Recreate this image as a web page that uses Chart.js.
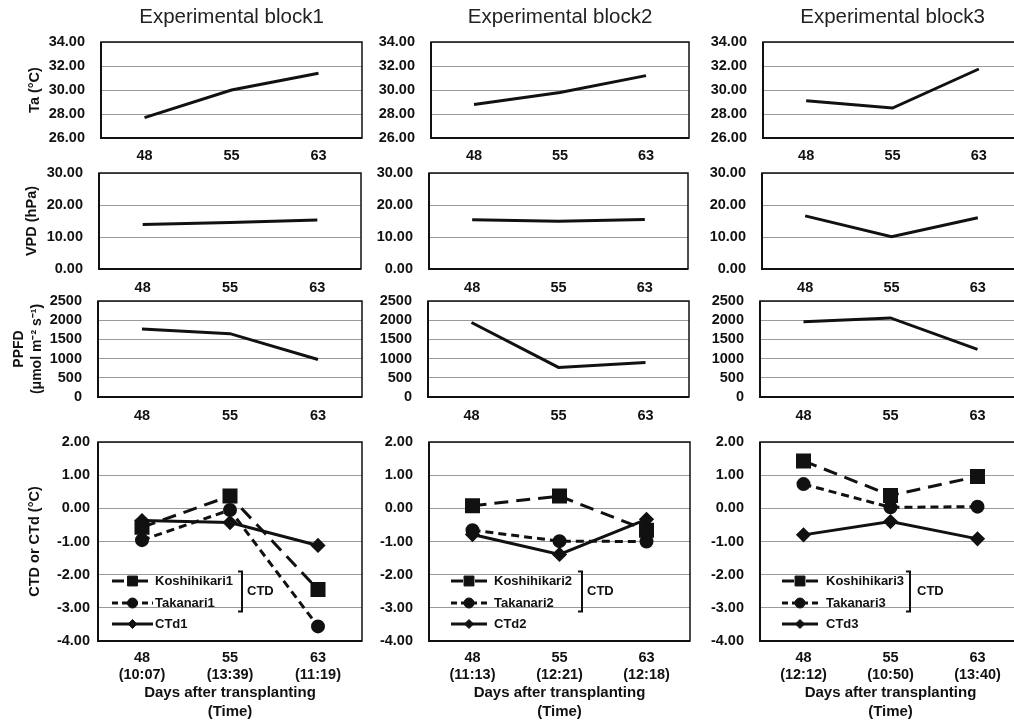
<!DOCTYPE html>
<html><head><meta charset="utf-8">
<script src="https://cdn.jsdelivr.net/npm/chart.js@4.4.1/dist/chart.umd.min.js"></script>
<style>
html,body{margin:0;padding:0;width:1014px;height:721px;overflow:hidden;background:#fff;}
canvas{position:absolute;}
</style></head><body>
<script>
// ---------- data ----------
const days = ['48', '55', '63'];
const times1 = ['(10:07)', '(13:39)', '(11:19)'];
const times2 = ['(11:13)', '(12:21)', '(12:18)'];
const times3 = ['(12:12)', '(10:50)', '(13:40)'];
const blockTitles = ['Experimental block1', 'Experimental block2', 'Experimental block3'];

const ta1 = [27.7, 30.0, 31.4];
const ta2 = [28.8, 29.8, 31.2];
const ta3 = [29.1, 28.5, 31.75];

const vpd1 = [13.9, 14.5, 15.3];
const vpd2 = [15.4, 14.9, 15.5];
const vpd3 = [16.6, 10.1, 16.0];

const ppfd1 = [1770, 1650, 975];
const ppfd2 = [1940, 770, 900];
const ppfd3 = [1960, 2060, 1240];

const koshihikari1 = [-0.57, 0.37, -2.45];
const takanari1 = [-0.96, -0.05, -3.56];
const ctdAir1 = [-0.37, -0.43, -1.12];
const koshihikari2 = [0.08, 0.37, -0.66];
const takanari2 = [-0.66, -0.99, -1.00];
const ctdAir2 = [-0.79, -1.39, -0.33];
const koshihikari3 = [1.43, 0.39, 0.96];
const takanari3 = [0.73, 0.03, 0.05];
const ctdAir3 = [-0.80, -0.40, -0.92];

const seriesNames = [
  ['Koshihikari1', 'Takanari1', 'CTd1'],
  ['Koshihikari2', 'Takanari2', 'CTd2'],
  ['Koshihikari3', 'Takanari3', 'CTd3']
];
const yTitles = ['Ta (°C)', 'VPD (hPa)', ['PPFD', '(μmol m⁻² s⁻¹)'], 'CTD or CTd (°C)'];
const xTitle = ['Days after transplanting', '(Time)'];
const bracketLabel = 'CTD';

// ---------- style / layout ----------
const FONT = '"Liberation Sans", Arial, Helvetica, sans-serif';
Chart.defaults.font.family = FONT;
Chart.defaults.color = '#111';
const INK = '#111';

const rows = [
  {T: 42, B: 138, L: [101, 431, 763], R: [362, 689, 1022], min: 26, max: 34, step: 2, dec: 2, tpad: 26.3, xpad: 9},
  {T: 173, B: 269, L: [99, 429, 762], R: [361, 688, 1021], min: 0, max: 30, step: 10, dec: 2, tpad: 23.3, xpad: 10.5},
  {T: 301, B: 397, L: [98, 428, 760], R: [362, 689, 1021], min: 0, max: 2500, step: 500, dec: 0, tpad: 10, xpad: 10},
  {T: 442, B: 641, L: [98, 429, 760], R: [362, 690, 1021], min: -4, max: 2, step: 1, dec: 2, tpad: 26.3, xpad: 8}
];
const legendPos = [
  {x0: 14, len: 41, tx: 57, bx: 144, cx: 149},
  {x0: 22, len: 36, tx: 65, bx: 153, cx: 158},
  {x0: 22, len: 36, tx: 66, bx: 150, cx: 157}
];

const boxPlugin = {
  id: 'box',
  beforeDatasetsDraw(chart) {
    const {ctx, chartArea: a} = chart;
    ctx.save();
    ctx.strokeStyle = INK;
    ctx.lineWidth = 1.5;
    ctx.strokeRect(a.left, a.top, a.right - a.left, a.bottom - a.top);
    ctx.lineWidth = 2;
    ctx.beginPath();
    ctx.moveTo(a.left, a.top); ctx.lineTo(a.left, a.bottom); ctx.lineTo(a.right, a.bottom);
    ctx.stroke();
    ctx.restore();
  }
};

const ctdLegendPlugin = {
  id: 'ctdLegend',
  afterDatasetsDraw(chart, args, opts) {
    if (!opts || !opts.show) return;
    const {ctx, chartArea: a} = chart;
    const rowY = [139, 161, 182];
    ctx.save();
    chart.data.datasets.forEach((ds, i) => {
      const y = a.top + rowY[i];
      const x0 = a.left + opts.x0, x1 = x0 + opts.len;
      ctx.strokeStyle = INK; ctx.lineWidth = 3;
      ctx.setLineDash(ds.legendDash || []);
      ctx.beginPath(); ctx.moveTo(x0, y); ctx.lineTo(x1, y); ctx.stroke();
      ctx.setLineDash([]);
      ctx.fillStyle = INK; ctx.lineWidth = 1;
      Chart.helpers.drawPoint(ctx, {pointStyle: ds.pointStyle, radius: ds.legendRadius, borderWidth: 1, rotation: 0}, (x0 + x1) / 2, y);
      ctx.font = 'bold 13px ' + FONT;
      ctx.textBaseline = 'middle';
      ctx.textAlign = 'left';
      ctx.fillText(ds.label, a.left + opts.tx, y);
    });
    const bx = a.left + opts.bx, bt = a.top + 129.5, bb = a.top + 169.5;
    ctx.lineWidth = 2; ctx.strokeStyle = INK;
    ctx.beginPath();
    ctx.moveTo(bx - 4, bt); ctx.lineTo(bx, bt); ctx.lineTo(bx, bb); ctx.lineTo(bx - 4, bb);
    ctx.stroke();
    ctx.font = 'bold 13px ' + FONT;
    ctx.textBaseline = 'middle';
    ctx.fillText(bracketLabel, a.left + opts.cx, a.top + 149);
    ctx.restore();
  }
};

const simpleData = [
  [ta1, ta2, ta3],
  [vpd1, vpd2, vpd3],
  [ppfd1, ppfd2, ppfd3]
];
const ctdData = [
  [koshihikari1, takanari1, ctdAir1],
  [koshihikari2, takanari2, ctdAir2],
  [koshihikari3, takanari3, ctdAir3]
];
const timesAll = [times1, times2, times3];

function makeChart(r, c) {
  const row = rows[r];
  const L = row.L[c], R = row.R[c], T = row.T, B = row.B;
  const yW = c === 0 ? L : 70;
  const topPad = r === 0 ? T : 30;
  const xH = r === 3 ? 721 - B : 28;
  const rightPad = 24;
  const w = yW + (R - L) + rightPad;
  const h = topPad + (B - T) + xH;
  const cv = document.createElement('canvas');
  cv.width = w; cv.height = h;
  cv.style.width = w + 'px'; cv.style.height = h + 'px';
  cv.style.left = (L - yW) + 'px'; cv.style.top = (T - topPad) + 'px';
  document.body.appendChild(cv);

  let labels, datasets;
  if (r < 3) {
    labels = days.slice();
    datasets = [{
      data: simpleData[r][c], borderColor: INK, borderWidth: 3, pointRadius: 0, tension: 0, fill: false
    }];
  } else {
    labels = days.map((d, i) => [d, timesAll[c][i]]);
    const names = seriesNames[c];
    const d = ctdData[c];
    datasets = [
      {label: names[0], data: d[0], borderColor: INK, borderWidth: 3, borderDash: [14, 8], legendDash: [12, 12],
       pointStyle: 'rect', pointRadius: 8.5, legendRadius: 7, pointBackgroundColor: INK, pointBorderColor: INK},
      {label: names[1], data: d[1], borderColor: INK, borderWidth: 3, borderDash: [8, 5], legendDash: [6, 4],
       pointStyle: 'circle', pointRadius: 5.5, legendRadius: 5, pointBackgroundColor: INK, pointBorderColor: INK},
      {label: names[2], data: d[2], borderColor: INK, borderWidth: 3,
       pointStyle: 'rectRot', pointRadius: 5.5, legendRadius: 4.5, pointBackgroundColor: INK, pointBorderColor: INK}
    ];
  }

  const yTitle = yTitles[r];
  const isMulti = Array.isArray(yTitle);

  new Chart(cv, {
    type: 'line',
    data: {labels, datasets},
    plugins: [boxPlugin, ctdLegendPlugin],
    options: {
      responsive: false,
      animation: false,
      devicePixelRatio: 1,
      layout: {padding: {top: r === 0 ? 0 : topPad, right: rightPad, left: 0, bottom: 0}},
      plugins: {
        legend: {display: false},
        tooltip: {enabled: false},
        title: {
          display: r === 0,
          text: blockTitles[c],
          fullSize: false,
          color: '#222',
          font: {size: 20.5, weight: 'normal', family: FONT},
          padding: {top: 5.5, bottom: 11.9}
        },
        ctdLegend: r === 3 ? Object.assign({show: true}, legendPos[c]) : {show: false}
      },
      scales: {
        x: {
          type: 'category',
          offset: true,
          grid: {display: false, drawTicks: false},
          border: {display: false},
          ticks: {padding: row.xpad, color: INK, font: {size: 14.5, weight: 'bold'}, maxRotation: 0, autoSkip: false},
          title: r === 3 ? {
            display: true, text: xTitle, color: INK,
            font: {size: 15, weight: 'bold', lineHeight: 1.25},
            padding: {top: 0, bottom: 0}
          } : {display: false},
          afterFit: (s) => { s.height = xH; }
        },
        y: {
          min: row.min, max: row.max,
          grid: {color: '#9a9a9a', lineWidth: 1, drawTicks: false},
          border: {display: false},
          ticks: {
            stepSize: row.step,
            autoSkip: false,
            padding: (r === 3 && c === 0) ? 8 : 16,
            color: INK,
            font: {size: 14.5, weight: 'bold'},
            callback: (v) => Number(v).toFixed(row.dec)
          },
          title: c === 0 ? {
            display: true, text: yTitle, color: INK,
            font: {size: isMulti ? 14 : 14.5, weight: 'bold', lineHeight: isMulti ? 1.3 : 1.2},
            padding: {top: row.tpad, bottom: 0}
          } : {display: false},
          afterFit: (s) => { s.width = yW; }
        }
      }
    }
  });
}

for (let r = 0; r < 4; r++) {
  for (let c = 0; c < 3; c++) makeChart(r, c);
}
</script>
</body></html>
